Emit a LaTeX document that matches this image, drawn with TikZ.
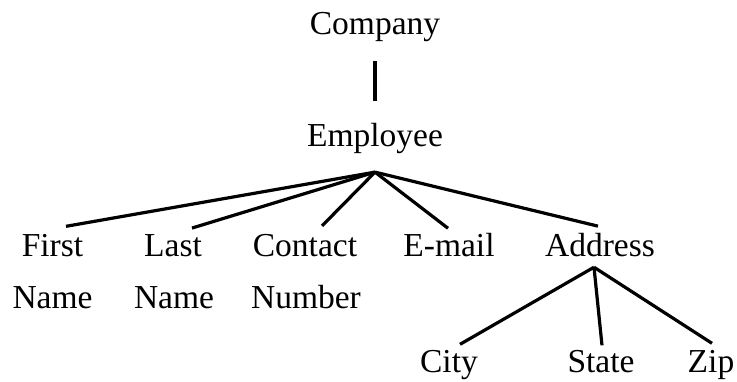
\documentclass[tikz,border=0pt]{standalone}
\usepackage{fontspec}
\setmainfont{Liberation Serif}
\begin{document}
\begin{tikzpicture}[x=1pt,y=1pt,
    word/.style={font=\fontsize{33.5}{40}\selectfont, inner sep=0pt, anchor=base},
    branch/.style={line width=3.2pt}]
      \useasboundingbox (0,0) rectangle (737,381);
      \draw
        (375,346) node[word] (comp){Company}
        (375,234.3) node[word] (emp){Employee}
        (52.5,124.3) node[word] (first){First}
        (52.5,73) node[word] (firstb){Name}
        (173,124.3) node[word] (last){Last}
        (174,73) node[word] (lastb){Name}
        (305,124.3) node[word] (contact){Contact}
        (306,73) node[word] (contactb){Number}
        (449,124.3) node[word] (email){E-mail}
        (600,125) node[word] (addr){Address}
        (449,8.3) node[word] (city){City}
        (601,8.3) node[word] (state){State}
        (711,8.3) node[word] (zip){Zip};
      \coordinate (emproot) at ([yshift=-18pt]emp.south);
      \coordinate (addrroot) at ([xshift=-6pt,yshift=-10.7pt]addr.south);
      \begin{scope}[branch]
        \draw[shorten <=19pt, shorten >=22pt] (comp.south) to (emp.north);
        \draw (emproot) to ([xshift=13.5pt,yshift=8pt]first.north);
        \draw (emproot) to ([xshift=19pt,yshift=6.5pt]last.north);
        \draw (emproot) to ([xshift=17pt,yshift=8.4pt]contact.north);
        \draw (emproot) to ([xshift=-1pt,yshift=5pt]email.north);
        \draw (emproot) to ([xshift=-2pt,yshift=6.4pt]addr.north);
        \draw (addrroot) to ([xshift=11pt,yshift=6pt]city.north);
        \draw (addrroot) to ([xshift=1pt,yshift=5pt]state.north);
        \draw (addrroot) to ([xshift=1pt,yshift=7pt]zip.north);
      \end{scope}
    \end{tikzpicture}
\end{document}
